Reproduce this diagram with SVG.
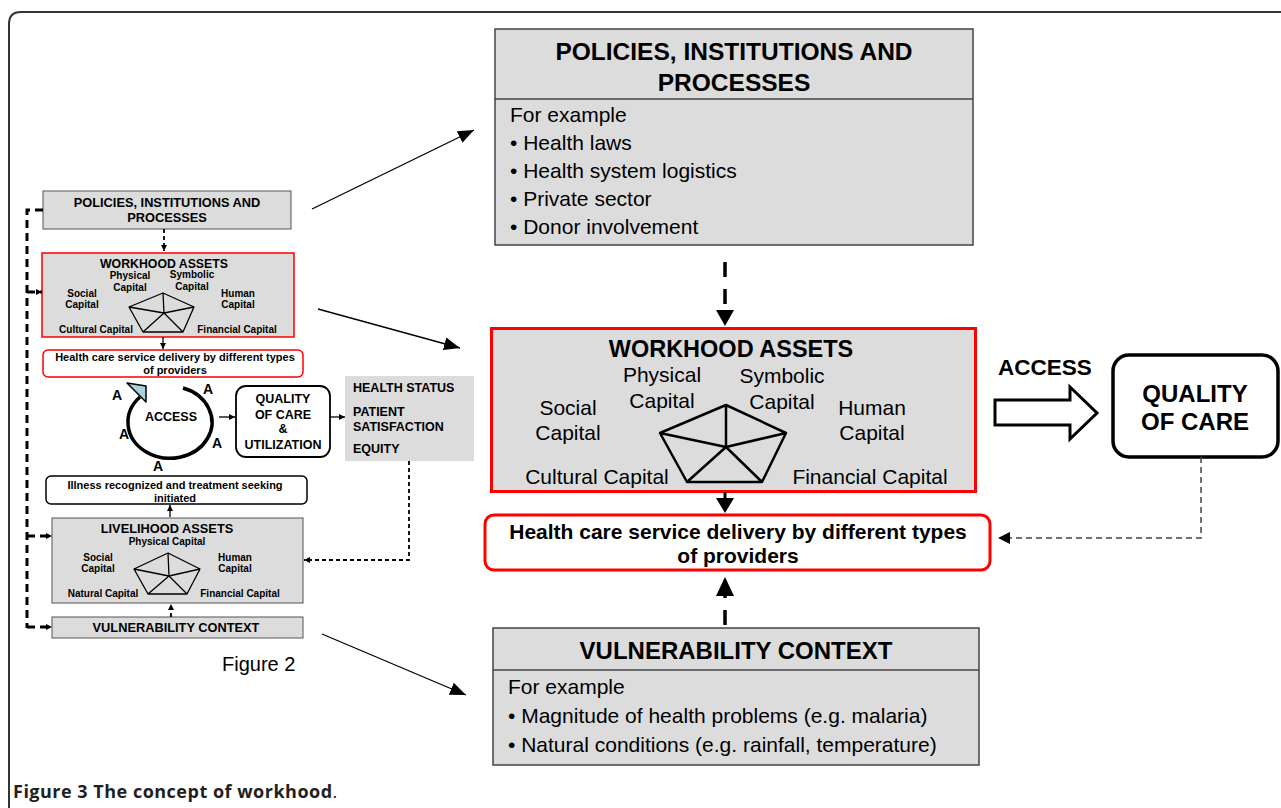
<svg xmlns="http://www.w3.org/2000/svg" width="1281" height="808" viewBox="0 0 1281 808">
<defs>
<style>
text{font-family:"Liberation Sans",Arial,sans-serif;fill:#000}
text.cap{font-family:"Open Sans","Liberation Sans",sans-serif;fill:#231f20;letter-spacing:0.5px}
.b{font-weight:bold}
.m{text-anchor:middle}
.gray{fill:#dcdcdc;stroke:#444;stroke-width:1.5}
.sgray{fill:#dcdcdc;stroke:#555;stroke-width:1}
.red{fill:#dcdcdc;stroke:#f00;stroke-width:3}
.sred{fill:#dcdcdc;stroke:#f00;stroke-width:1.5}
.pent{fill:none;stroke:#000;stroke-width:2.5;stroke-linejoin:round}
.spent{fill:none;stroke:#000;stroke-width:1.3;stroke-linejoin:round}
.t21{font-size:21px}
.t10{font-size:10px}
.bigdash{stroke:#000;stroke-width:3.5;fill:none;stroke-dasharray:15 12}
.ldash{stroke:#000;stroke-width:3;fill:none;stroke-dasharray:8 5}
.sdash{stroke:#000;stroke-width:1.8;fill:none;stroke-dasharray:4 3}
.thin{stroke:#000;stroke-width:1.3;fill:none}
</style>
<marker id="ah" viewBox="0 0 10 10" refX="10" refY="5" markerWidth="6" markerHeight="6" markerUnits="userSpaceOnUse" orient="auto"><path d="M0 0L10 5L0 10z" fill="#000"/></marker>
<marker id="ahm" viewBox="0 0 10 10" refX="10" refY="5" markerWidth="16" markerHeight="16" markerUnits="userSpaceOnUse" orient="auto"><path d="M0 1L10 5L0 9z" fill="#000"/></marker>
</defs>
<rect width="1281" height="808" fill="#fff"/>
<path d="M9 808L9 24Q9 12 21 12L1281 12" fill="none" stroke="#333" stroke-width="2"/>

<!-- LEFT SMALL DIAGRAM -->
<g id="s-policies">
<rect x="43" y="191" width="248" height="38" class="sgray"/>
<text x="167" y="207" class="b m" font-size="12.8">POLICIES, INSTITUTIONS AND</text>
<text x="167" y="222" class="b m" font-size="12.8">PROCESSES</text>
</g>
<g id="s-workhood">
<rect x="42" y="253" width="252" height="84" class="sred"/>
<text x="164" y="268" class="b m" font-size="12.3">WORKHOOD ASSETS</text>
<g class="b m t10">
<text x="130" y="279">Physical</text><text x="130" y="291">Capital</text>
<text x="192" y="278">Symbolic</text><text x="192" y="290">Capital</text>
<text x="82" y="297">Social</text><text x="82" y="308">Capital</text>
<text x="238" y="297">Human</text><text x="238" y="308">Capital</text>
<text x="96" y="333">Cultural Capital</text>
<text x="237" y="333">Financial Capital</text>
</g>
<path class="spent" d="M163 293L194 307L183 332L143 332L129 307Z M163 293L164 313 M194 307L164 313 M183 332L164 313 M143 332L164 313 M129 307L164 313"/>
</g>
<g id="s-health">
<rect x="43" y="350" width="260" height="27" rx="5" fill="#fff" stroke="#f00" stroke-width="1.5"/>
<text x="175" y="361" class="b m" font-size="11">Health care service delivery by different types</text>
<text x="175" y="374" class="b m" font-size="11">of providers</text>
</g>
<g id="s-access">
<path d="M183 388A42 36 0 1 1 140 397" fill="none" stroke="#000" stroke-width="3.5"/>
<path d="M127 383L146 386L146 402Z" fill="#a9d3da" stroke="#000" stroke-width="1.5" stroke-linejoin="round"/>
<text x="171" y="421" class="b m" font-size="12.5">ACCESS</text>
<g class="b m" font-size="14">
<text x="117" y="400">A</text>
<text x="208" y="394">A</text>
<text x="124" y="439">A</text>
<text x="217" y="448">A</text>
<text x="158" y="471">A</text>
</g>
</g>
<g id="s-quality">
<rect x="236" y="386" width="94" height="71" rx="10" fill="#fff" stroke="#000" stroke-width="1.8"/>
<g class="b m" font-size="12.5">
<text x="283" y="403">QUALITY</text>
<text x="283" y="419">OF CARE</text>
<text x="283" y="433">&amp;</text>
<text x="283" y="449">UTILIZATION</text>
</g>
</g>
<g id="s-outcome">
<rect x="345" y="376" width="129" height="85" fill="#dcdcdc"/>
<g class="b" font-size="12.5">
<text x="353" y="392">HEALTH STATUS</text>
<text x="353" y="416">PATIENT</text>
<text x="353" y="431">SATISFACTION</text>
<text x="353" y="453">EQUITY</text>
</g>
</g>
<g id="s-illness">
<rect x="46" y="476" width="261" height="28" rx="5" fill="#fff" stroke="#000" stroke-width="1.5"/>
<text x="175" y="489" class="b m" font-size="11">Illness recognized and treatment seeking</text>
<text x="175" y="502" class="b m" font-size="11">initiated</text>
</g>
<g id="s-livelihood">
<rect x="52" y="518" width="251" height="85" class="sgray"/>
<text x="167" y="533" class="b m" font-size="12.8">LIVELIHOOD ASSETS</text>
<g class="b m t10">
<text x="167" y="545">Physical Capital</text>
<text x="98" y="561">Social</text><text x="98" y="572">Capital</text>
<text x="235" y="561">Human</text><text x="235" y="572">Capital</text>
<text x="103" y="597">Natural Capital</text>
<text x="240" y="597">Financial Capital</text>
</g>
<path class="spent" d="M168 553L200 569L187 594L148 594L134 569Z M168 553L169 576 M200 569L169 576 M187 594L169 576 M148 594L169 576 M134 569L169 576"/>
</g>
<g id="s-vulnerability">
<rect x="52" y="617" width="251" height="21" class="sgray"/>
<text x="176" y="632" class="b m" font-size="12.8">VULNERABILITY CONTEXT</text>
</g>
<text id="fig2" x="222" y="671" font-size="20">Figure 2</text>

<!-- RIGHT BIG DIAGRAM -->
<g id="policies">
<rect x="495" y="29" width="478" height="216" class="gray"/>
<line x1="495" y1="99" x2="973" y2="99" stroke="#444" stroke-width="1.5"/>
<text x="734" y="60" class="b m" font-size="24.5">POLICIES, INSTITUTIONS AND</text>
<text x="734" y="91" class="b m" font-size="24.5">PROCESSES</text>
<g class="t21">
<text x="510" y="122">For example</text>
<text x="510" y="150">• Health laws</text>
<text x="510" y="178">• Health system logistics</text>
<text x="510" y="206">• Private sector</text>
<text x="510" y="234">• Donor involvement</text>
</g>
</g>
<g id="workhood">
<rect x="491.5" y="328.5" width="484" height="163" class="red"/>
<text x="731" y="357" class="b m" font-size="23.5">WORKHOOD ASSETS</text>
<g class="m t21">
<text x="662" y="382">Physical</text><text x="662" y="408">Capital</text>
<text x="782" y="383">Symbolic</text><text x="782" y="409">Capital</text>
<text x="568" y="415">Social</text><text x="568" y="440">Capital</text>
<text x="872" y="415">Human</text><text x="872" y="440">Capital</text>
<text x="597" y="484">Cultural Capital</text>
<text x="870" y="484">Financial Capital</text>
</g>
<path class="pent" d="M726 405L786 433L762 482L687 482L660 433Z M726 405L726 447 M786 433L726 447 M762 482L726 447 M687 482L726 447 M660 433L726 447"/>
</g>
<g id="healthcare">
<rect x="485" y="515" width="505" height="55" rx="9" fill="#fff" stroke="#f00" stroke-width="3"/>
<text x="738" y="539" class="b m" font-size="21">Health care service delivery by different types</text>
<text x="738" y="563" class="b m" font-size="21">of providers</text>
</g>
<g id="access">
<text x="1045" y="375" class="b m" font-size="22.5">ACCESS</text>
<path d="M995 400L1070 400L1070 387L1097 413L1070 439L1070 425L995 425Z" fill="#fff" stroke="#000" stroke-width="3" stroke-linejoin="miter"/>
</g>
<g id="quality">
<rect x="1113" y="355" width="165" height="102" rx="16" fill="#fff" stroke="#000" stroke-width="3.5"/>
<text x="1195" y="402" class="b m" font-size="24">QUALITY</text>
<text x="1195" y="430" class="b m" font-size="24">OF CARE</text>
</g>
<g id="vulnerability">
<rect x="493" y="628" width="486" height="137" class="gray"/>
<line x1="493" y1="670" x2="979" y2="670" stroke="#444" stroke-width="1.5"/>
<text x="736" y="659" class="b m" font-size="24">VULNERABILITY CONTEXT</text>
<g class="t21">
<text x="508" y="694">For example</text>
<text x="508" y="723">• Magnitude of health problems (e.g. malaria)</text>
<text x="508" y="752">• Natural conditions (e.g. rainfall, temperature)</text>
</g>
</g>

<g id="connectors">
<line x1="164" y1="229" x2="164" y2="251" class="sdash" marker-end="url(#ah)"/>
<line x1="163" y1="337" x2="163" y2="349" class="thin" marker-end="url(#ah)"/>
<line x1="219" y1="417" x2="235" y2="417" class="thin" marker-end="url(#ah)"/>
<line x1="330" y1="417" x2="345" y2="417" class="thin" marker-end="url(#ah)"/>
<line x1="170" y1="517" x2="170" y2="505" class="thin" marker-end="url(#ah)"/>
<line x1="171" y1="617" x2="171" y2="604" class="sdash" marker-end="url(#ah)"/>
<path d="M409 461L409 560L304 560" class="sdash" marker-end="url(#ah)"/>
<path d="M43 210L27 210L27 628" class="ldash"/>
<line x1="27" y1="292" x2="42" y2="292" class="ldash" marker-end="url(#ah)"/>
<line x1="27" y1="536" x2="52" y2="536" class="ldash" marker-end="url(#ah)"/>
<line x1="27" y1="627" x2="52" y2="627" class="ldash" marker-end="url(#ah)"/>
<line x1="312" y1="209" x2="474" y2="130" class="thin" marker-end="url(#ahm)"/>
<line x1="318" y1="309" x2="460" y2="348" class="thin" marker-end="url(#ahm)"/>
<line x1="322" y1="634" x2="466" y2="695" class="thin" marker-end="url(#ahm)"/>
<line x1="725" y1="262" x2="725" y2="312" class="bigdash"/>
<path d="M716 310L734 310L725 326Z" fill="#000"/>
<line x1="725" y1="492" x2="725" y2="500" stroke="#000" stroke-width="3"/>
<path d="M716 498L734 498L725 513Z" fill="#000"/>
<line x1="725" y1="625" x2="725" y2="594" stroke="#000" stroke-width="3.5" stroke-dasharray="15 12"/>
<path d="M716 596L734 596L725 577Z" fill="#000"/>
<path d="M1201 457L1201 538L1006 538" fill="none" stroke="#444" stroke-width="1.5" stroke-dasharray="6 4"/>
<path d="M1010 532L1010 544L998 538Z" fill="#000"/>
</g>

<text id="caption" class="cap" x="13" y="798" font-size="18"><tspan font-weight="bold">Figure 3 The concept of workhood</tspan><tspan>.</tspan></text>
</svg>
